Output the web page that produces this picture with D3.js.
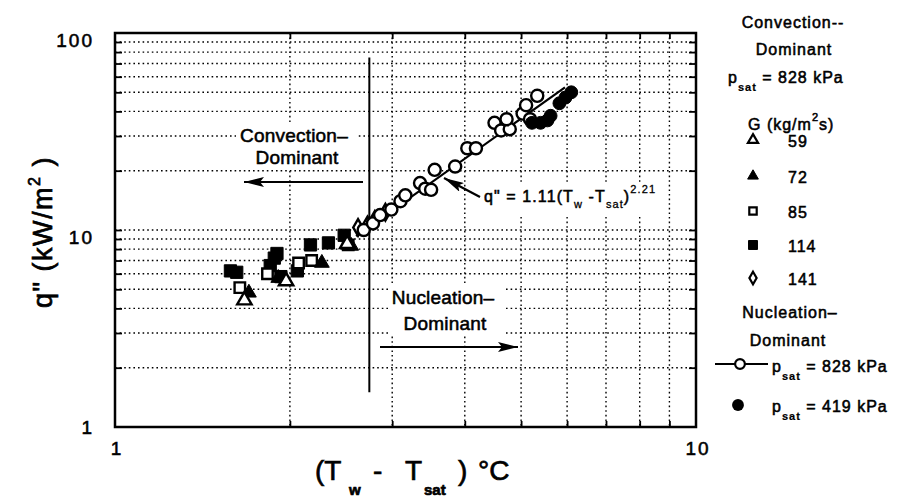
<!DOCTYPE html>
<html><head><meta charset="utf-8">
<script src="https://cdn.jsdelivr.net/npm/d3@7/dist/d3.min.js"></script>
<style>
body{margin:0;background:#fff}
svg{display:block}
text{font-family:"Liberation Sans",Arial,Helvetica,sans-serif;fill:#000;stroke:#000;stroke-width:0.55px}
</style>
</head><body>
<svg id="c" width="912" height="499"></svg>
<script>
// ---------------- data ----------------
const xTickLabels = [1, 10];
const yTickLabels = [1, 10, 100];
const xMinor = [2, 3, 4, 5, 6, 7, 8, 9];
const yMinor = [2, 3, 4, 5, 6, 7, 8, 9, 10, 20, 30, 40, 50, 60, 70, 80, 90];

// Convection-dominant, p_sat = 828 kPa, by G (kg/m2s)
const conv59  = [[1.67, 4.4], [1.97, 5.5], [2.51, 8.5]];
const conv72  = [[1.70, 4.8], [1.91, 5.7], [2.27, 6.8], [2.55, 8.3]];
const conv85  = [[1.64, 5.1], [1.83, 6.0], [2.07, 6.8], [2.18, 7.0], [2.52, 8.4]];
const conv114 = [[1.58, 6.2], [1.62, 6.1], [1.85, 6.6], [1.88, 7.2], [1.90, 7.6], [1.93, 5.8], [2.06, 6.2], [2.17, 8.4], [2.33, 8.6], [2.48, 9.4]];
const conv141 = [[2.62, 10.3], [2.72, 10.6], [2.80, 11.3], [2.92, 12.3]];
// Nucleation-dominant
const nuc828 = [[2.68, 10.0], [2.78, 10.8], [2.86, 11.9], [2.99, 12.7], [3.10, 14.0], [3.16, 15.0], [3.35, 17.3], [3.42, 16.2], [3.50, 16.0], [3.55, 20.2], [3.85, 21.0], [4.04, 26.0], [4.18, 26.0], [4.50, 35.0], [4.62, 32.0], [4.78, 32.5], [4.72, 36.5], [5.03, 39.0], [5.10, 43.0], [5.18, 36.5], [5.33, 48.0]];
const nuc419 = [[5.22, 35], [5.40, 35], [5.55, 36], [5.62, 38], [5.82, 44], [5.96, 47], [6.10, 50]];
// correlation q" = 1.11 (Tw - Tsat)^2.21, end points as drawn
const fitLine = [[2.60, 9.3], [5.95, 53]];
// convection / nucleation boundary
const boundaryX = 2.74;
const boundaryY = [1.5, 75];

// ---------------- chart ----------------
const W = 912, H = 499;
const L = 115, R = 696, T = 33, B = 427;
const svg = d3.select('#c');
svg.append('rect').attr('width', W).attr('height', H).attr('fill', '#fff');
const x = d3.scaleLog().domain([1, 10]).range([L, R]);
const y = d3.scaleLog().domain([1, 100]).range([B, T]);

// grid (dotted)
const grid = svg.append('g').attr('stroke', '#000').attr('stroke-width', 1.4).attr('stroke-dasharray', '1.6,3');
grid.selectAll('.gx').data(xMinor).join('line')
  .attr('x1', d => x(d)).attr('x2', d => x(d)).attr('y1', T).attr('y2', B);
grid.selectAll('.gy').data(yMinor).join('line')
  .attr('y1', d => y(d)).attr('y2', d => y(d)).attr('x1', L).attr('x2', R);

// inner tick marks via axes
function styleAxis(g){ g.select('.domain').remove(); g.selectAll('text').remove(); g.selectAll('line').attr('stroke','#000').attr('stroke-width',1.8); }
svg.append('g').attr('transform', `translate(0,${B})`).call(d3.axisBottom(x).tickValues(xMinor).tickSize(-6)).call(styleAxis);
svg.append('g').attr('transform', `translate(0,${T})`).call(d3.axisTop(x).tickValues(xMinor).tickSize(-6)).call(styleAxis);
svg.append('g').attr('transform', `translate(${L},0)`).call(d3.axisLeft(y).tickValues(yMinor).tickSize(-7)).call(styleAxis);
svg.append('g').attr('transform', `translate(${R},0)`).call(d3.axisRight(y).tickValues(yMinor).tickSize(-7)).call(styleAxis);

// annotation text with white backgrounds
const ann = svg.append('g');
function label(g, txt, cx, cy, size){
  return g.append('text').attr('x', cx).attr('y', cy).attr('text-anchor', 'middle')
    .attr('dominant-baseline', 'central').style('font-size', size + 'px').style('letter-spacing','0.2px').text(txt);
}
function whiteBox(x0, y0, x1, y1){ ann.append('rect').attr('x', x0).attr('y', y0).attr('width', x1 - x0).attr('height', y1 - y0).attr('fill', '#fff'); }
whiteBox(236, 122, 356, 168);
whiteBox(388, 284, 503, 336);
whiteBox(474, 182, 662, 216);

// boundary line
svg.append('line').attr('x1', x(boundaryX)).attr('x2', x(boundaryX))
  .attr('y1', y(boundaryY[0])).attr('y2', y(boundaryY[1])).attr('stroke', '#000').attr('stroke-width', 2);

// fit line
svg.append('path').datum(fitLine).attr('fill', 'none').attr('stroke', '#000').attr('stroke-width', 2.2)
  .attr('d', d3.line().x(d => x(d[0])).y(d => y(d[1])));

// markers
const sym = (type, size) => d3.symbol().type(type).size(size)();
function pts(data, type, size, filled){
  svg.append('g').selectAll('path').data(data).join('path')
    .attr('transform', d => `translate(${x(d[0])},${y(d[1])})`)
    .attr('d', sym(type, size))
    .attr('fill', filled ? '#000' : '#fff').attr('stroke', '#000').attr('stroke-width', filled ? 1 : 2.4);
}
pts(conv114, d3.symbolSquare, 150, true);
pts(conv85, d3.symbolSquare, 110, false);
pts(conv72, d3.symbolTriangle, 95, true);
pts(conv59, d3.symbolTriangle, 90, false);
pts(conv141, d3.symbolDiamond, 80, false);
pts(nuc828, d3.symbolCircle, 115, false);
pts(nuc419, d3.symbolCircle, 130, true);

// annotations
label(ann, 'Convection\u2013', 294, 135, 19);
label(ann, 'Dominant', 297, 157, 19);
label(ann, 'Nucleation\u2013', 443, 297, 19);
label(ann, 'Dominant', 445, 323, 19);

svg.append('defs').append('marker').attr('id', 'ah').attr('viewBox', '0 0 20 10')
  .attr('refX', 20).attr('refY', 5).attr('markerWidth', 20).attr('markerHeight', 10)
  .attr('markerUnits', 'userSpaceOnUse').attr('orient', 'auto')
  .append('path').attr('d', 'M0,0 L20,5 L0,10 L4,5 Z').attr('fill', '#000');
function arrow(x1, y1, x2, y2){
  svg.append('line').attr('x1', x1).attr('y1', y1).attr('x2', x2).attr('y2', y2)
    .attr('stroke', '#000').attr('stroke-width', 2.2).attr('marker-end', 'url(#ah)');
}
arrow(363, 182, 244, 182);
arrow(380, 347, 518, 347);
arrow(480, 197, 444, 178);

// equation
const eq = ann.append('text').attr('x', 484).attr('y', 202).style('font-size', '16px').style('letter-spacing', '1.1px');
eq.append('tspan').text('q"  =  1.11(T');
eq.append('tspan').attr('dy', 6).style('font-size', '11px').style('stroke-width','0.3px').text('w');
eq.append('tspan').attr('dy', -6).text(' -T');
eq.append('tspan').attr('dy', 6).style('font-size', '11px').style('stroke-width','0.3px').text('sat');
eq.append('tspan').attr('dy', -6).text(')');
eq.append('tspan').attr('dy', -9).style('font-size', '11px').style('stroke-width','0.3px').text('2.21');

// frame
svg.append('rect').attr('x', L).attr('y', T).attr('width', R - L).attr('height', B - T)
  .attr('fill', 'none').attr('stroke', '#000').attr('stroke-width', 2.5);

// tick labels
svg.selectAll('.yl').data(yTickLabels).join('text')
  .attr('x', 94).attr('y', d => y(d) + (d === 1 ? 0 : 7)).attr('text-anchor', 'end')
  .attr('dominant-baseline', 'central').style('font-size', '19px').style('letter-spacing', '2px').text(d => d);
svg.selectAll('.xl').data(xTickLabels).join('text')
  .attr('x', d => x(d) + 2).attr('y', 448).attr('text-anchor', 'middle')
  .attr('dominant-baseline', 'central').style('font-size', '19px').style('letter-spacing', '2px').text(d => d);

// axis titles
const yt = svg.append('text').attr('transform', 'translate(52,232) rotate(-90)').attr('text-anchor', 'middle')
  .style('font-size', '27px').style('letter-spacing', '1.5px').style('stroke-width','0.7px');
yt.append('tspan').text('q"  (kW/m');
yt.append('tspan').attr('dy', -12).style('font-size', '16px').text('2');
yt.append('tspan').attr('dy', 12).text(' )');

const xt = svg.append('text').attr('y', 480).style('font-size', '28px').style('stroke-width','0.7px');
xt.append('tspan').attr('x', 315).text('(T');
xt.append('tspan').attr('x', 349).attr('dy', 15).style('font-size', '15px').style('font-weight','bold').text('w');
xt.append('tspan').attr('x', 373).attr('dy', -15).text('-');
xt.append('tspan').attr('x', 405).text('T');
xt.append('tspan').attr('x', 424).attr('dy', 15).style('font-size', '15px').style('font-weight','bold').text('sat');
xt.append('tspan').attr('x', 458).attr('dy', -15).text(')');
xt.append('tspan').attr('x', 478).text('\u00B0C');

// legend
const lg = svg.append('g');
function ltext(txt, lx, ly, anchor){
  return lg.append('text').attr('x', lx).attr('y', ly).attr('text-anchor', anchor || 'start')
    .attr('dominant-baseline', 'central').style('font-size', '16px').style('letter-spacing', '1px').text(txt);
}
function psat(lx, ly, rest){
  const t = lg.append('text').attr('x', lx).attr('y', ly).attr('dominant-baseline', 'central')
    .style('font-size', '16px').style('letter-spacing', '1px');
  t.append('tspan').text('p');
  t.append('tspan').attr('dy', 10).style('font-size', '11px').style('font-weight','bold').style('stroke-width','0.2px').text('sat');
  t.append('tspan').attr('dy', -10).text(rest);
}
ltext('Convection--', 793, 22, 'middle');
ltext('Dominant', 794, 49, 'middle');
psat(728, 77, ' = 828 kPa');
const gt = lg.append('text').attr('x', 748).attr('y', 124).attr('dominant-baseline', 'central')
  .style('font-size', '16px').style('letter-spacing', '1px');
gt.append('tspan').text('G  (kg/m');
gt.append('tspan').attr('dy', -7).style('font-size', '11px').text('2');
gt.append('tspan').attr('dy', 7).text('s)');
const legRows = [
  {type: d3.symbolTriangle, filled: false, label: '59', y: 140, size: 45},
  {type: d3.symbolTriangle, filled: true, label: '72', y: 176, size: 50},
  {type: d3.symbolSquare, filled: false, label: '85', y: 211, size: 55},
  {type: d3.symbolSquare, filled: true, label: '114', y: 245, size: 80},
  {type: d3.symbolDiamond, filled: false, label: '141', y: 278, size: 45}
];
legRows.forEach(r => {
  lg.append('path').attr('transform', `translate(753,${r.y})`).attr('d', sym(r.type, r.size))
    .attr('fill', r.filled ? '#000' : '#fff').attr('stroke', '#000').attr('stroke-width', r.filled ? 1 : 2.2);
  ltext(r.label, 788, r.y + 1);
});
ltext('Nucleation\u2013', 790, 312, 'middle');
ltext('Dominant', 788, 340, 'middle');
lg.append('line').attr('x1', 715).attr('x2', 768).attr('y1', 364).attr('y2', 364).attr('stroke', '#000').attr('stroke-width', 2);
lg.append('path').attr('transform', 'translate(740,364)').attr('d', sym(d3.symbolCircle, 75))
  .attr('fill', '#fff').attr('stroke', '#000').attr('stroke-width', 2.2);
psat(772, 366, ' = 828 kPa');
lg.append('path').attr('transform', 'translate(738,405)').attr('d', sym(d3.symbolCircle, 110)).attr('fill', '#000');
psat(772, 406, ' = 419 kPa');
</script>
</body></html>
